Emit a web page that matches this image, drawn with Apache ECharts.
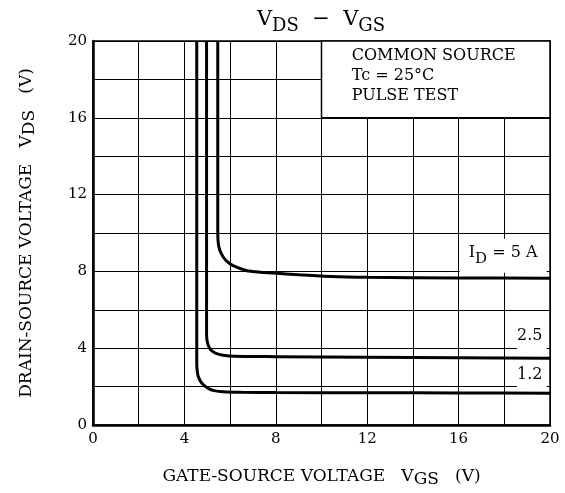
<!DOCTYPE html>
<html><head><meta charset="utf-8">
<script src="https://cdn.jsdelivr.net/npm/echarts@6/dist/echarts.min.js"></script>
<style>html,body{margin:0;padding:0;background:#fff}#c{width:565px;height:493px}</style>
</head><body><div id="c"></div>
<script>
// Axis ranges / ticks
const xMin = 0, xMax = 20, yMin = 0, yMax = 20, gridStep = 2, labelStep = 4;

// Curves: [VGS (V), VDS (V)]
const curveId12 = [[4.54,20],[4.54,3.4],[4.55,2.95],[4.6,2.55],[4.72,2.25],[4.9,2.02],[5.1,1.87],[5.3,1.79],[5.7,1.73],[6.5,1.7],[8,1.69],[12,1.68],[16,1.67],[20,1.66]];
const curveId25 = [[4.97,20],[4.97,5.0],[4.98,4.5],[5.03,4.2],[5.12,3.97],[5.25,3.82],[5.41,3.72],[5.7,3.63],[6.2,3.58],[8,3.56],[12,3.53],[16,3.5],[20,3.48]];
const curveId5  = [[5.46,20],[5.46,10.2],[5.48,9.5],[5.55,9.1],[5.7,8.75],[5.9,8.48],[6.13,8.3],[6.7,8.05],[7.3,7.96],[7.9,7.92],[9,7.82],[10.4,7.73],[12,7.69],[16,7.66],[20,7.64]];

// Annotation text
const condLines = ['COMMON SOURCE', 'Tc = 25°C', 'PULSE TEST'];
const curveLabels = ['{m|I}{s|D}{m| = 5 A}', '{m|2.5}', '{m|1.2}'];

const serif = '"DejaVu Serif", "Liberation Serif", serif';
const subRich = {
  m: {fontFamily: serif, fontSize: 16, color: '#000', lineHeight: 22, verticalAlign: 'top'},
  s: {fontFamily: serif, fontSize: 15, color: '#000', lineHeight: 14, verticalAlign: 'bottom'}
};

const chart = echarts.init(document.getElementById('c'), null, {renderer: 'canvas'});

function lineSeries(data) {
  return {
    type: 'line', data: data, showSymbol: false, symbol: 'none', smooth: 0.25,
    lineStyle: {color: '#000', width: 3}, z: 5, silent: true
  };
}

const option = {
  backgroundColor: '#fff',
  animation: false,
  title: {
    text: '{b|V}{s|DS}{b|  −  V}{s|GS}',
    left: 316, top: 4, textAlign: 'center',
    textStyle: {
      fontWeight: 'normal',
      rich: {
        b: {fontFamily: serif, fontSize: 21, fontWeight: 'normal', color: '#000', lineHeight: 26, verticalAlign: 'top'},
        s: {fontFamily: serif, fontSize: 18, fontWeight: 'normal', color: '#000', lineHeight: 16, verticalAlign: 'bottom'}
      }
    }
  },
  grid: {left: 93, right: 15, top: 41, bottom: 66, show: true, borderColor: '#000', borderWidth: 1.5, backgroundColor: 'transparent'},
  xAxis: {
    type: 'value', min: xMin, max: xMax, interval: gridStep,
    axisLine: {show: true, lineStyle: {color: '#000', width: 2.5}},
    axisTick: {show: false},
    splitLine: {show: true, lineStyle: {color: '#000', width: 1}},
    axisLabel: {
      margin: 7, color: '#000', fontFamily: serif, fontSize: 15,
      formatter: v => (v % labelStep === 0 ? String(v) : '')
    },
    name: '{m|GATE-SOURCE VOLTAGE   V}{s|GS}{m|   (V)}',
    nameLocation: 'middle', nameGap: 43,
    nameTextStyle: {rich: {
      m: {fontFamily: serif, fontSize: 17, color: '#000', lineHeight: 20, verticalAlign: 'top'},
      s: {fontFamily: serif, fontSize: 17, color: '#000', lineHeight: 15, verticalAlign: 'bottom'}
    }}
  },
  yAxis: {
    type: 'value', min: yMin, max: yMax, interval: gridStep,
    axisLine: {show: true, lineStyle: {color: '#000', width: 2.5}},
    axisTick: {show: false},
    splitLine: {show: true, lineStyle: {color: '#000', width: 1}},
    axisLabel: {
      margin: 6, color: '#000', fontFamily: serif, fontSize: 15,
      formatter: v => (v % labelStep === 0 ? String(v) : '')
    },
    name: '{m|DRAIN-SOURCE VOLTAGE   V}{s|DS}{m|   (V)}',
    nameLocation: 'middle', nameGap: 55, nameRotate: 90,
    nameTextStyle: {rich: {
      m: {fontFamily: serif, fontSize: 17, color: '#000', lineHeight: 20, verticalAlign: 'top'},
      s: {fontFamily: serif, fontSize: 17, color: '#000', lineHeight: 15, verticalAlign: 'bottom'}
    }}
  },
  series: [
    {
      type: 'line', data: [], silent: true, z: 3,
      markArea: {
        silent: true,
        data: [
          [{coord: [10, 16], itemStyle: {color: '#fff', borderColor: '#000', borderWidth: 1.5},
            label: {show: true, position: 'insideTopLeft', distance: 0, padding: [6, 0, 0, 31],
              formatter: condLines.join('\n'), fontFamily: serif, fontSize: 16, lineHeight: 20, color: '#000'}},
           {coord: [20, 20]}],
          [{coord: [16.05, 7.93], itemStyle: {color: '#fff', borderWidth: 0},
            label: {show: true, position: 'inside', formatter: curveLabels[0], rich: subRich}},
           {coord: [19.85, 9.7]}],
          [{coord: [18.55, 3.93], itemStyle: {color: '#fff', borderWidth: 0},
            label: {show: true, position: 'inside', formatter: curveLabels[1], rich: subRich, offset: [-2, 0]}},
           {coord: [19.85, 5.0]}],
          [{coord: [18.55, 1.93], itemStyle: {color: '#fff', borderWidth: 0},
            label: {show: true, position: 'inside', formatter: curveLabels[2], rich: subRich, offset: [-2, 0]}},
           {coord: [19.85, 3.0]}]
        ]
      }
    },
    lineSeries(curveId12),
    lineSeries(curveId25),
    lineSeries(curveId5)
  ]
};
chart.setOption(option);
</script>
</body></html>
